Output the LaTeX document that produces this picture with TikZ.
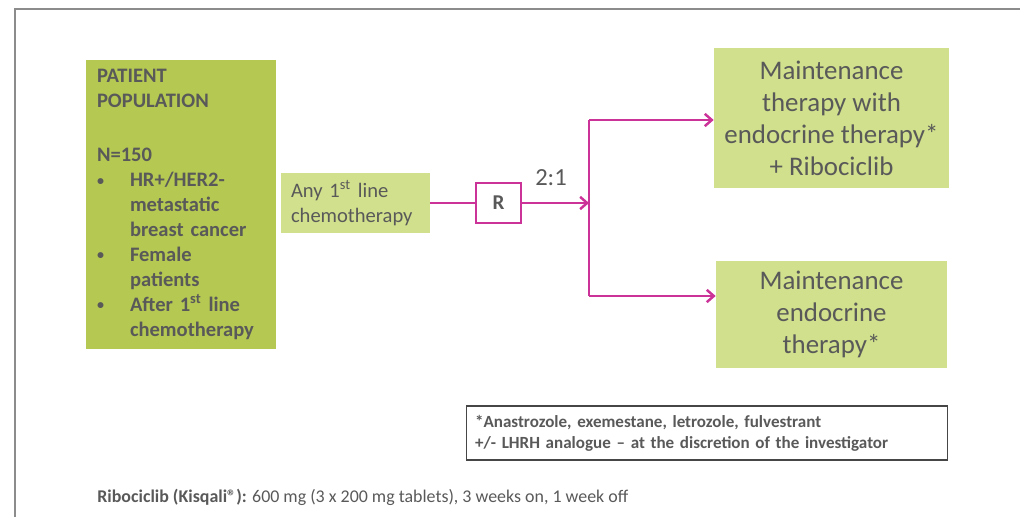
\documentclass[tikz,border=0pt]{standalone}
\usepackage{fontspec}
\setmainfont{Carlito}
\usetikzlibrary{arrows.meta}
\definecolor{popgreen}{RGB}{181,201,82}
\definecolor{armgreen}{RGB}{208,224,140}
\definecolor{linkpink}{RGB}{204,51,153}
\definecolor{txtgray}{RGB}{89,89,89}
\definecolor{framegray}{RGB}{140,140,140}
\newcommand{\bul}{\makebox[0.66cm][l]{\raisebox{0.15ex}{\fontsize{8}{8}\selectfont\textbullet}}}
\newcommand{\ind}{\hspace*{0.66cm}}

\begin{document}
\begin{tikzpicture}[x=0.02cm, y=-0.02cm,
	every node/.style={text=txtgray, inner sep=0pt},
	link/.style={draw=linkpink, line width=1.4pt},
	tip/.style={-{Straight Barb[length=4pt, width=7pt, line width=1.4pt]}}]
	\useasboundingbox (0,0) rectangle (1020,517);
	\draw[framegray, line width=0.9pt] (15,517) -- (15,9) -- (1020,9);
	% population and pre-treatment
	\node[fill=popgreen, minimum width=3.8cm, minimum height=5.78cm, text width=3.36cm, align=left,
		font=\fontsize{11.7}{14.2}\selectfont\bfseries] (pop) at (181,204.5)
		{PATIENT\\ POPULATION\\[16.5pt] N=150\\ \bul HR+/HER2-\\ \ind metastatic\\ \ind breast cancer\\
		\bul Female\\ \ind patients\\ \bul After 1\textsuperscript{st} line\\ \ind chemotherapy};
	\node[fill=armgreen, minimum width=2.98cm, minimum height=1.2cm, text width=2.58cm, align=left,
		font=\fontsize{11.7}{14.2}\selectfont] (chemo) at (355.5,203)
		{Any 1\textsuperscript{st} line\\ chemotherapy};
	% randomisation
	\node[draw=linkpink, line width=1.2pt, fill=white, minimum width=0.9cm, minimum height=0.8cm,
		font=\fontsize{12}{14}\selectfont\bfseries] (rand) at (498.5,203) {R};
	\node[font=\fontsize{14}{17}\selectfont] (ratio) at (551,178) {2:1};
	% arms
	\node[fill=armgreen, minimum width=4.7cm, minimum height=2.8cm, align=center,
		font=\fontsize{15.3}{18.2}\selectfont] (armA) at (831.5,118)
		{Maintenance\\ therapy with\\ endocrine therapy*\\ + Ribociclib};
	\node[fill=armgreen, minimum width=4.62cm, minimum height=2.14cm, align=center,
		font=\fontsize{15.3}{18.2}\selectfont] (armB) at (831.5,314.5)
		{Maintenance\\ endocrine\\ therapy*};
	\coordinate (split) at (589,203);
	\coordinate (upper) at (589,120);
	\coordinate (lower) at (589,296);
	\draw[link] (chemo.east) -- (rand.west);
	\draw[link, tip] (rand.east) -- (split);
	\draw[link] (upper) -- (lower);
	\draw[link, tip] (upper) -- (upper -| armA.west);
	\draw[link, tip] (lower) -- (lower -| armB.west);
	% notes
	\node[draw={rgb,255:red,70;green,70;blue,70}, line width=0.6pt, fill=white, minimum width=9.64cm,
		minimum height=1.08cm, text width=9.28cm, align=left, font=\fontsize{9.7}{12}\selectfont\bfseries]
		(note) at (707,433)
		{*Anastrozole, exemestane, letrozole, fulvestrant\\ +/- LHRH analogue -- at the discretion of the investigator};
	\node[anchor=west, font=\fontsize{10.2}{12}\selectfont] (dose) at (97,497)
		{\textbf{Ribociclib (Kisqali®):} 600 mg (3 x 200 mg tablets), 3 weeks on, 1 week off};
\end{tikzpicture}
\end{document}
